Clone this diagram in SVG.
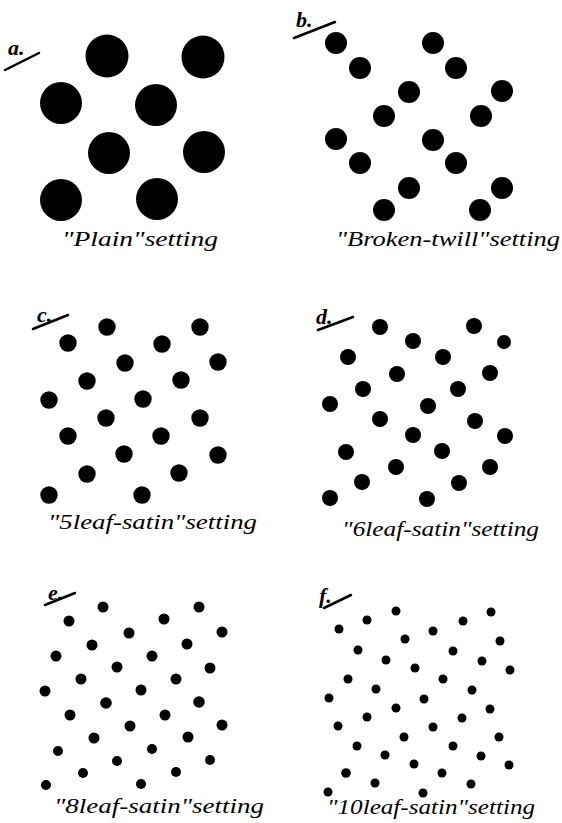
<svg xmlns="http://www.w3.org/2000/svg" width="562" height="823" viewBox="0 0 562 823">
<style>
.d{fill:#000}
.t{font-family:"Liberation Serif",serif;font-style:italic;font-size:21px;fill:#000}
.l{font-family:"Liberation Serif",serif;font-style:italic;font-weight:bold;font-size:22px;fill:#000}
.s{stroke:#000;stroke-width:2.5;stroke-linecap:round;fill:none}
</style>
<rect width="562" height="823" fill="#fff"/>
<g id="panel-a">
<text class="l" x="8" y="55">a.</text>
<line class="s" x1="5" y1="70" x2="39" y2="53"/>
<g class="d">
<circle cx="107" cy="56" r="21.5"/><circle cx="203" cy="57" r="21.5"/>
<circle cx="61" cy="103" r="21"/><circle cx="156" cy="105" r="21"/>
<circle cx="109" cy="153" r="21"/><circle cx="204" cy="152" r="21"/>
<circle cx="61" cy="200" r="21"/><circle cx="157" cy="199" r="21"/>
</g>
<text class="t" x="62" y="246" textLength="156" lengthAdjust="spacingAndGlyphs">"Plain"setting</text>
</g>
<g id="panel-b">
<text class="l" x="296" y="27">b.</text>
<line class="s" x1="294" y1="38" x2="335" y2="22"/>
<g class="d">
<circle cx="336" cy="43" r="11"/><circle cx="433" cy="43" r="11"/>
<circle cx="360" cy="68" r="11"/><circle cx="456" cy="68" r="11"/>
<circle cx="409" cy="92" r="11"/><circle cx="502" cy="91" r="11"/>
<circle cx="384" cy="116" r="11"/><circle cx="481" cy="116" r="11"/>
<circle cx="336" cy="139" r="11"/><circle cx="433" cy="140" r="11"/>
<circle cx="360" cy="163" r="11"/><circle cx="456" cy="163" r="11"/>
<circle cx="409" cy="188" r="11"/><circle cx="502" cy="188" r="11"/>
<circle cx="384" cy="210" r="11"/><circle cx="480" cy="210" r="11"/>
</g>
<text class="t" x="336" y="246" textLength="224" lengthAdjust="spacingAndGlyphs">"Broken-twill"setting</text>
</g>
<g id="panel-c">
<text class="l" x="37" y="322">c.</text>
<line class="s" x1="33" y1="329" x2="68" y2="315"/>
<g class="d">
<circle cx="107" cy="327" r="8.7"/><circle cx="200" cy="327" r="8.7"/>
<circle cx="68" cy="343" r="8.7"/><circle cx="162" cy="344" r="8.7"/>
<circle cx="125" cy="363" r="8.7"/><circle cx="218" cy="362" r="8.7"/>
<circle cx="87" cy="381" r="8.7"/><circle cx="181" cy="380" r="8.7"/>
<circle cx="49" cy="400" r="8.7"/><circle cx="143" cy="399" r="8.7"/>
<circle cx="106" cy="418" r="8.7"/><circle cx="200" cy="418" r="8.7"/>
<circle cx="68" cy="436" r="8.7"/><circle cx="161" cy="436" r="8.7"/>
<circle cx="124" cy="454" r="8.7"/><circle cx="218" cy="455" r="8.7"/>
<circle cx="87" cy="474" r="8.7"/><circle cx="179" cy="473" r="8.7"/>
<circle cx="49" cy="495" r="8.7"/><circle cx="142" cy="495" r="8.7"/>
</g>
<text class="t" x="48" y="529" textLength="209" lengthAdjust="spacingAndGlyphs">"5leaf-satin"setting</text>
</g>
<g id="panel-d">
<text class="l" x="316" y="324">d.</text>
<line class="s" x1="318" y1="330" x2="353" y2="317"/>
<g class="d">
<circle cx="380" cy="327" r="8"/><circle cx="474" cy="326" r="8"/>
<circle cx="413" cy="341" r="8"/><circle cx="504" cy="342" r="7"/>
<circle cx="348" cy="357" r="8"/><circle cx="443" cy="357" r="8"/>
<circle cx="397" cy="374" r="8"/><circle cx="490" cy="373" r="8"/>
<circle cx="363" cy="389" r="8"/><circle cx="458" cy="389" r="8"/>
<circle cx="330" cy="404" r="8"/><circle cx="428" cy="406" r="8"/>
<circle cx="380" cy="419" r="8"/><circle cx="475" cy="421" r="8"/>
<circle cx="413" cy="435" r="8"/><circle cx="505" cy="436" r="8"/>
<circle cx="346" cy="452" r="8"/><circle cx="442" cy="451" r="8"/>
<circle cx="396" cy="467" r="8"/><circle cx="490" cy="467" r="8"/>
<circle cx="362" cy="482" r="8"/><circle cx="459" cy="483" r="8"/>
<circle cx="330" cy="498" r="8"/><circle cx="427" cy="499" r="8"/>
</g>
<text class="t" x="342" y="536" textLength="197" lengthAdjust="spacingAndGlyphs">"6leaf-satin"setting</text>
</g>
<g id="panel-e">
<text class="l" x="48" y="600">e.</text>
<line class="s" x1="45" y1="605" x2="75" y2="593"/>
<g class="d">
<circle cx="103" cy="607" r="5.5"/><circle cx="199" cy="607" r="5.5"/>
<circle cx="69" cy="621" r="5.5"/><circle cx="164" cy="619" r="5.5"/>
<circle cx="129" cy="633" r="5.5"/><circle cx="222" cy="632" r="5.5"/>
<circle cx="92" cy="645" r="5.5"/><circle cx="187" cy="644" r="5.5"/>
<circle cx="56" cy="656" r="5.5"/><circle cx="152" cy="656" r="5.5"/>
<circle cx="117" cy="667" r="5.5"/><circle cx="210" cy="668" r="5.5"/>
<circle cx="81" cy="679" r="5.5"/><circle cx="176" cy="679" r="5.5"/>
<circle cx="45" cy="691" r="5.5"/><circle cx="141" cy="690" r="5.5"/>
<circle cx="106" cy="703" r="5.8"/><circle cx="199" cy="702" r="5.8"/>
<circle cx="70" cy="715" r="5.5"/><circle cx="165" cy="715" r="5.5"/>
<circle cx="130" cy="726" r="5.5"/><circle cx="222" cy="725" r="5.5"/>
<circle cx="94" cy="738" r="5.5"/><circle cx="188" cy="737" r="5.5"/>
<circle cx="58" cy="751" r="5"/><circle cx="152" cy="749" r="5"/>
<circle cx="117" cy="761" r="5"/><circle cx="210" cy="760" r="5"/>
<circle cx="83" cy="773" r="5"/><circle cx="176" cy="772" r="5"/>
<circle cx="46" cy="785" r="5"/><circle cx="141" cy="784" r="5"/>
</g>
<text class="t" x="54" y="813" textLength="210" lengthAdjust="spacingAndGlyphs">"8leaf-satin"setting</text>
</g>
<g id="panel-f">
<text class="l" x="319" y="603">f.</text>
<line class="s" x1="324" y1="608" x2="351" y2="595"/>
<g class="d">
<circle cx="396" cy="611" r="4.5"/><circle cx="491" cy="612" r="4.5"/>
<circle cx="367" cy="620" r="4.5"/><circle cx="463" cy="621" r="4.5"/>
<circle cx="339" cy="629" r="4.5"/><circle cx="433" cy="631" r="4.5"/>
<circle cx="405" cy="639" r="4.5"/><circle cx="500" cy="641" r="4.5"/>
<circle cx="358" cy="650" r="4.5"/><circle cx="453" cy="651" r="4.5"/>
<circle cx="386" cy="660" r="4.5"/><circle cx="482" cy="661" r="4.5"/>
<circle cx="415" cy="668" r="4.5"/><circle cx="510" cy="670" r="4.5"/>
<circle cx="348" cy="679" r="4.5"/><circle cx="443" cy="679" r="4.5"/>
<circle cx="376" cy="689" r="4.5"/><circle cx="472" cy="690" r="4.5"/>
<circle cx="329" cy="698" r="4.5"/><circle cx="424" cy="699" r="4.5"/>
<circle cx="396" cy="708" r="4.5"/><circle cx="490" cy="709" r="4.5"/>
<circle cx="367" cy="717" r="4.5"/><circle cx="462" cy="718" r="4.5"/>
<circle cx="338" cy="726" r="4.5"/><circle cx="433" cy="727" r="4.5"/>
<circle cx="404" cy="737" r="4.5"/><circle cx="499" cy="737" r="4.5"/>
<circle cx="357" cy="746" r="4.5"/><circle cx="453" cy="746" r="4.5"/>
<circle cx="385" cy="755" r="4.5"/><circle cx="481" cy="756" r="4.5"/>
<circle cx="414" cy="764" r="4.5"/><circle cx="509" cy="765" r="4.5"/>
<circle cx="346" cy="773" r="4.8"/><circle cx="442" cy="773" r="4.5"/>
<circle cx="375" cy="783" r="4.5"/><circle cx="471" cy="784" r="4.5"/>
<circle cx="328" cy="792" r="4.5"/><circle cx="423" cy="793" r="4.5"/>
</g>
<text class="t" x="327" y="814" textLength="208" lengthAdjust="spacingAndGlyphs">"10leaf-satin"setting</text>
</g>
</svg>
